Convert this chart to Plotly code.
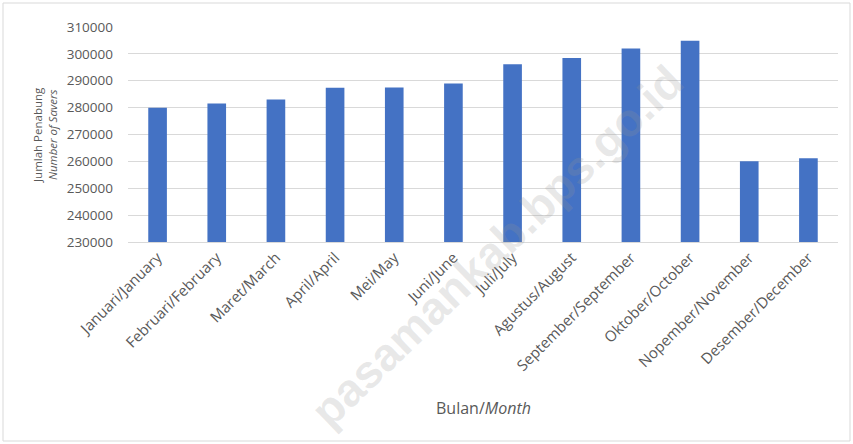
import plotly.graph_objects as go

months = ["Januari/January", "Februari/February", "Maret/March", "April/April",
          "Mei/May", "Juni/June", "Juli/July", "Agustus/August",
          "September/September", "Oktober/October", "Nopember/November",
          "Desember/December"]
savers = [280000, 281500, 283000, 287400, 287500, 289000, 296100, 298500,
          302000, 304900, 260000, 261200]
y_ticks = [230000, 240000, 250000, 260000, 270000, 280000, 290000, 300000, 310000]

W, H = 853, 444
ml, mr, mt, mb = 128, 15, 27, 202
pw, ph = W - ml - mr, H - mt - mb

def px(x):
    return (x - ml) / pw

def py(y):
    return (H - mb - y) / ph

font_family = "Open Sans, Liberation Sans, sans-serif"

fig = go.Figure(go.Bar(x=months, y=savers, marker=dict(color="#4472C4", line=dict(width=0))))

fig.update_layout(
    width=W, height=H,
    margin=dict(l=ml, r=mr, t=mt, b=mb, autoexpand=False),
    paper_bgcolor="white", plot_bgcolor="white",
    bargap=0.685,
    showlegend=False,
    font=dict(family=font_family, color="#595959"),
    xaxis=dict(tickangle=-45, tickfont=dict(size=15, color="#595959"),
               showgrid=False, showline=True, linecolor="#d9d9d9", linewidth=1,
               ticks="", automargin=False),
    yaxis=dict(range=[230000, 310000], tickvals=y_ticks, ticktext=[str(v) for v in y_ticks],
               tickfont=dict(size=13.5, color="#595959"), showgrid=True, gridcolor="#d9d9d9",
               gridwidth=1, zeroline=False, ticks="", ticklabelstandoff=14, automargin=False),
    shapes=[dict(type="rect", xref="paper", yref="paper",
                 x0=px(3), x1=px(850), y0=py(441), y1=py(3),
                 line=dict(color="#d9d9d9", width=1), fillcolor="rgba(0,0,0,0)", layer="below")],
    annotations=[
        dict(text="pasamankab.bps.go.id", xref="paper", yref="paper",
             x=px(497), y=py(246), xanchor="center", yanchor="middle",
             showarrow=False, textangle=-44,
             font=dict(size=46, color="rgba(150,150,150,0.22)", family="Liberation Sans, sans-serif",
                       weight="bold")),
        dict(text="Bulan/<i>Month</i>", xref="paper", yref="paper",
             x=px(483), y=py(408), xanchor="center", yanchor="middle", showarrow=False,
             font=dict(size=16, color="#595959")),
        dict(text="Jumlah Penabung<br><i>Number of Savers</i>", xref="paper", yref="paper",
             x=px(45), y=py(135), xanchor="center", yanchor="middle", showarrow=False, textangle=-90,
             font=dict(size=11.5, color="#595959")),
    ],
)

fig.write_html("out.html", config={"displayModeBar": False},
               post_script="document.body.style.margin='0';document.body.style.overflow='hidden';")
